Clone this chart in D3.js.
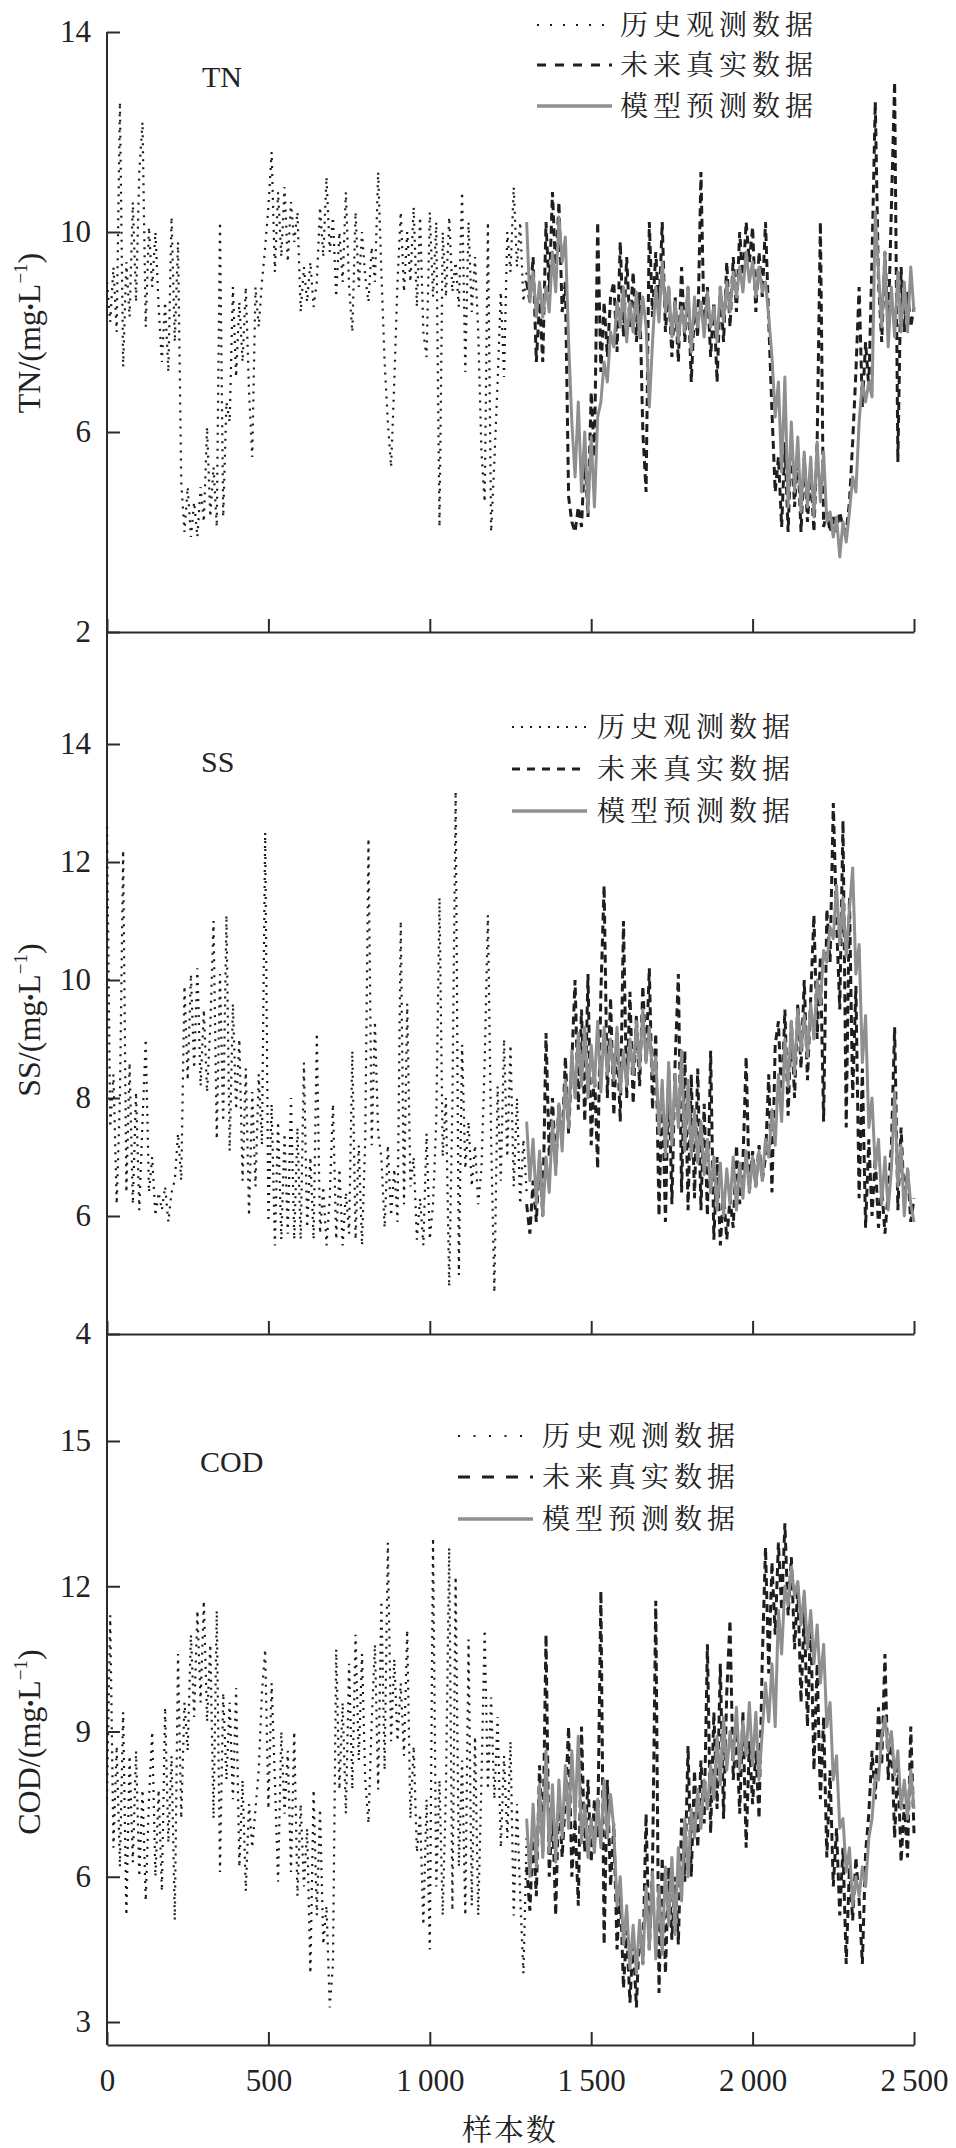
<!DOCTYPE html>
<html><head><meta charset="utf-8">
<script src="https://cdn.jsdelivr.net/npm/d3@7"></script>
<style>body{margin:0;background:#fff}svg{display:block}</style>
</head><body>
<svg id="c" width="956" height="2148"></svg>
<script>
// ---------------- data (sampled every 10 samples) ----------------
const STEP = 10;
const histStart = 0, futStart = 1300;
const xTicks = [0, 500, 1000, 1500, 2000, 2500];
const legendLabels = ["历史观测数据", "未来真实数据", "模型预测数据"];
const panelNames = ["TN", "SS", "COD"];
const tnTicks = [14, 10, 6, 2];
const ssTicks = [14, 12, 10, 8, 6, 4];
const codTicks = [15, 12, 9, 6, 3];

const tnHist = [9.0,8.2,9.3,8.0,12.6,7.3,9.4,8.3,10.6,8.6,11.2,12.2,8.1,10.1,8.9,10.0,8.5,7.4,8.6,7.2,
10.3,7.8,9.8,5.0,4.0,4.9,3.9,4.6,3.9,4.9,4.2,6.1,4.3,5.3,4.1,10.2,4.3,6.6,6.2,8.9,
7.1,8.6,7.4,8.9,6.8,5.5,8.9,8.1,9.0,9.7,10.5,11.6,9.2,10.8,9.5,10.9,9.4,10.6,9.8,10.4,
8.4,9.3,8.6,9.4,8.5,9.0,10.5,9.5,11.1,9.6,10.3,8.7,10.0,9.0,10.8,8.9,8.0,10.4,8.9,10.0,
9.1,8.6,9.7,9.0,11.2,9.2,7.4,6.2,5.3,7.0,9.0,10.4,8.8,10.0,9.0,10.5,8.5,10.3,8.0,7.5,
10.4,8.7,10.2,4.1,10.0,8.7,10.3,8.8,9.4,8.5,10.8,7.2,10.2,8.4,9.5,8.0,5.6,4.6,10.2,4.0,
5.4,7.0,8.8,7.1,10.0,9.2,10.9,9.3,10.2,8.6,9.2];
const tnReal = [9.0,8.6,9.5,7.4,8.6,7.4,10.2,8.8,10.8,9.2,10.6,8.4,9.0,4.7,4.2,4.0,4.5,4.1,5.6,4.3,
6.8,5.5,10.2,7.2,8.6,7.5,8.7,9.0,7.6,9.8,7.9,9.5,8.1,9.2,7.8,8.8,6.0,4.8,10.2,8.3,
9.6,8.4,10.2,8.0,8.9,7.5,8.7,7.4,9.3,7.8,8.9,7.0,8.5,7.9,11.2,8.0,8.9,7.5,8.6,7.0,
8.9,7.8,9.4,8.1,9.5,8.4,10.0,9.0,10.2,9.4,10.1,8.4,9.6,8.7,10.2,8.2,6.4,4.8,5.5,4.1,
5.8,4.0,5.9,4.5,5.6,4.0,5.5,4.2,5.2,4.0,5.8,10.2,4.1,4.4,4.0,4.3,4.0,4.4,4.1,4.0,
4.6,5.8,7.2,8.9,6.5,7.8,6.9,9.5,12.6,9.0,7.8,9.6,8.0,10.5,13.0,5.4,9.3,8.0,8.8,8.1,8.5];
const tnPred = [10.2,8.6,9.2,8.3,9.0,8.3,8.9,8.4,9.6,8.8,10.3,9.4,9.9,7.8,6.2,5.1,6.6,4.8,6.0,4.4,
5.9,4.5,6.3,6.6,7.4,7.0,8.0,7.7,8.6,8.1,8.9,7.8,8.6,8.0,8.8,7.9,8.7,8.1,6.5,7.8,
8.9,8.2,9.4,8.4,8.9,7.9,8.6,7.8,8.5,8.0,8.9,7.6,8.7,8.1,8.6,7.9,8.8,8.1,8.5,7.8,
8.9,8.2,9.0,8.4,9.2,8.7,9.3,8.8,9.6,9.0,9.4,8.7,9.3,8.8,9.0,8.3,7.5,6.3,7.0,5.2,
7.1,4.5,6.2,4.8,5.9,4.4,5.6,4.5,5.5,4.3,5.8,4.6,5.6,4.2,4.4,3.9,4.3,3.5,4.2,3.8,
4.4,5.1,4.8,6.2,7.0,6.6,7.0,6.7,10.4,9.2,8.1,9.6,7.7,8.9,7.9,9.2,8.0,9.0,8.0,9.3,8.4];

const ssHist = [12.6,7.5,8.4,6.2,8.0,12.2,6.4,8.6,6.2,8.1,6.1,7.6,9.0,6.4,7.0,6.0,6.4,6.1,6.5,5.9,
6.4,6.6,7.4,6.6,9.9,8.3,10.1,8.5,10.2,8.2,9.5,8.1,9.2,11.0,7.3,10.1,7.6,11.1,7.1,9.6,
7.8,9.0,6.6,8.5,6.0,8.1,6.5,8.4,7.2,12.5,5.9,7.9,5.5,7.6,5.6,7.4,5.7,8.0,5.6,7.5,
5.6,8.6,5.8,7.0,5.6,9.1,5.7,6.5,5.5,6.3,7.9,5.6,6.8,5.5,6.4,5.7,8.8,5.6,7.2,5.5,
7.3,12.4,7.2,9.3,7.4,7.0,5.8,7.2,6.0,6.8,5.9,11.0,6.2,9.6,6.5,7.0,5.6,6.3,5.5,7.4,
5.6,6.2,7.6,11.4,7.0,8.0,4.8,7.9,13.2,5.0,8.9,6.8,7.6,6.5,7.2,6.2,6.8,8.6,11.1,7.3,
4.7,8.2,6.6,9.0,7.0,8.9,6.5,8.0,6.2,7.3,6.4];
const ssReal = [6.2,5.7,6.6,5.9,7.0,6.0,9.1,7.0,8.0,6.8,7.9,7.2,8.7,7.4,8.6,10.0,7.8,9.5,7.6,10.1,
7.2,8.5,6.8,9.8,11.6,8.0,9.7,7.7,9.1,7.6,11.0,8.0,9.8,7.9,9.4,8.2,9.9,8.6,10.2,7.8,
9.1,6.0,8.2,5.9,8.5,6.2,8.6,10.1,6.4,8.8,6.1,8.4,6.3,8.5,6.1,7.9,6.0,8.8,5.6,7.0,
5.5,6.4,5.6,6.3,5.8,7.2,6.2,6.9,8.7,6.4,7.1,6.5,7.2,6.6,7.0,8.4,6.4,8.9,9.3,7.9,
9.5,7.7,9.3,8.0,9.6,8.5,10.0,8.3,9.7,11.1,9.0,10.4,7.6,11.2,10.3,13.0,11.0,9.5,12.7,7.5,
11.4,8.0,9.9,6.3,8.5,5.8,7.3,6.0,7.0,5.8,6.5,5.7,6.4,7.2,9.2,6.1,7.5,6.2,6.8,5.9,6.3];
const ssPred = [7.6,6.6,7.3,6.2,7.1,6.0,7.0,6.4,7.6,6.7,7.9,7.1,8.3,7.5,8.8,8.0,9.1,8.2,9.2,8.0,
8.9,8.2,9.3,8.1,9.2,8.4,9.0,8.3,9.2,8.1,8.8,8.2,9.0,8.4,9.3,8.5,9.5,8.6,9.2,8.4,
8.7,7.4,8.3,7.0,8.6,7.2,8.4,7.5,8.8,7.1,8.3,7.0,7.8,6.9,7.6,6.7,7.3,6.4,7.0,6.1,
6.9,6.0,6.8,6.2,7.0,6.1,6.9,6.3,7.1,6.4,7.0,6.5,7.1,6.6,7.3,7.0,7.8,7.2,8.4,7.6,
9.0,8.2,9.3,8.4,9.5,8.8,9.4,8.7,9.6,9.0,10.0,9.6,10.5,10.3,10.9,10.7,11.6,10.6,11.4,10.4,
11.2,11.9,10.1,10.6,8.6,9.4,7.5,8.0,6.8,7.3,6.2,7.0,6.1,6.8,8.1,6.5,7.2,6.0,6.8,6.2,5.9];

const codHist = [7.6,11.4,6.6,8.7,6.2,9.4,5.2,8.5,6.3,8.6,6.0,7.8,5.5,7.6,9.0,6.0,7.8,5.7,9.5,6.7,
8.5,5.1,10.6,7.2,9.6,8.6,11.0,9.3,11.5,9.6,11.7,9.2,10.8,7.2,11.5,6.1,9.8,8.0,9.6,7.6,
9.9,6.2,8.0,5.7,7.5,6.6,7.4,8.2,9.8,10.7,7.4,10.0,8.0,5.9,9.0,7.3,8.6,6.1,9.0,5.6,
7.5,5.8,7.0,4.0,7.8,5.2,7.4,4.6,5.4,3.3,4.2,10.7,7.8,9.6,7.3,10.4,7.8,11.0,8.4,10.6,
8.0,7.1,9.2,10.8,7.8,11.7,8.2,12.9,8.8,10.5,8.8,10.0,8.5,11.1,7.2,8.7,6.5,7.3,5.0,7.6,
4.5,13.0,5.8,8.0,5.2,7.8,12.8,5.3,12.2,6.2,8.4,5.2,10.9,5.4,8.9,5.2,8.0,11.1,7.8,9.7,
7.6,9.3,6.6,8.5,6.8,8.8,5.2,7.5,5.6,4.0,6.8];
const codReal = [6.2,5.3,6.9,5.6,8.3,6.5,11.0,6.0,7.4,5.2,7.8,6.4,7.6,9.1,6.0,7.2,5.4,9.1,6.5,8.0,
6.3,7.6,6.8,11.9,4.6,8.0,5.8,7.1,4.5,5.8,3.7,4.9,3.4,4.7,3.3,5.0,4.2,7.3,4.5,6.2,
11.7,3.6,6.4,4.0,6.2,4.7,6.0,4.6,7.2,5.9,8.7,6.0,8.2,6.6,8.4,7.1,10.8,6.9,9.4,7.4,
10.4,7.2,9.8,11.3,8.0,9.0,7.3,9.4,6.6,8.8,7.5,8.6,7.2,10.5,12.8,10.2,12.5,11.0,12.9,11.5,
13.3,11.4,12.6,10.7,12.0,9.6,11.5,9.1,11.3,8.2,10.4,7.6,9.3,6.4,8.2,5.8,7.0,5.2,6.6,4.2,
6.2,5.1,6.4,5.5,4.2,6.5,7.3,8.6,7.6,9.5,8.3,10.6,8.0,9.0,6.8,8.4,6.3,7.5,6.4,9.1,6.9];
const codPred = [7.2,6.0,7.5,6.2,7.9,6.4,8.6,6.5,7.9,6.3,8.0,6.8,8.3,7.0,8.6,7.2,8.9,6.7,7.5,6.4,
7.2,6.5,7.6,6.6,8.0,6.8,7.7,7.0,5.4,6.0,4.6,5.4,4.1,5.0,4.0,5.1,4.2,5.8,4.5,6.1,
4.3,5.8,4.4,6.2,5.0,6.4,4.8,6.6,5.5,7.2,6.0,7.4,6.8,7.8,7.0,8.0,7.4,8.3,7.6,8.9,
7.9,9.3,8.2,9.0,8.4,9.5,8.2,9.2,8.5,9.6,8.3,9.4,8.0,9.0,10.0,9.2,10.4,9.1,11.5,10.6,
12.0,11.6,12.4,11.8,12.1,11.2,11.9,10.7,11.5,10.4,11.2,10.0,10.8,9.1,9.6,8.0,8.5,7.0,7.2,6.1,
6.6,5.4,6.0,5.6,6.2,5.8,6.8,7.2,8.1,8.0,8.9,9.3,8.6,9.0,8.1,8.6,7.4,8.0,7.2,8.2,7.4];

// ---------------- layout ----------------
const svg = d3.select("#c");
const AX = "#2b2b2b";
const serif = "'Liberation Serif','Times New Roman',serif";
const cjk = "'Noto Serif CJK SC','Noto Sans CJK SC','Noto Sans CJK JP',sans-serif";
const x = d3.scaleLinear().domain([0, 2500]).range([107, 914]);

const panels = [
  {name:"TN", domain:[2,14], range:[632,32], ticks:tnTicks, axisY:632, hist:tnHist, real:tnReal, pred:tnPred,
   labelY:333, nameX:202, nameY:87,
   leg:{x0:537, x1:612, tx:620, rows:[25,65,106], dot:"2,11", dash:"9,9"}},
  {name:"SS", domain:[4,14], range:[1334,744], ticks:ssTicks, axisY:1334, hist:ssHist, real:ssReal, pred:ssPred,
   labelY:1020, nameX:201, nameY:772,
   leg:{x0:512, x1:587, tx:597, rows:[727,769,811], dot:"2,7", dash:"8,7"}},
  {name:"COD", domain:[3,15], range:[2022,1441], ticks:codTicks, axisY:2045, hist:codHist, real:codReal, pred:codPred,
   labelY:1742, nameX:200, nameY:1472,
   leg:{x0:458, x1:533, tx:542, rows:[1436,1477,1519], dot:"2,13.5", dash:"12,12"}}
];

// continuous left axis
svg.append("line").attr("x1",107).attr("x2",107).attr("y1",32).attr("y2",2045)
  .attr("stroke",AX).attr("stroke-width",2);

panels.forEach((p, pi) => {
  const y = d3.scaleLinear().domain(p.domain).range(p.range);
  const g = svg.append("g");

  // y axis ticks
  const ya = g.append("g").attr("transform","translate(107,0)")
    .call(d3.axisLeft(y).tickValues(p.ticks).tickSize(-13).tickSizeOuter(0).tickPadding(16));
  ya.select(".domain").remove();
  ya.selectAll("line").attr("stroke",AX).attr("stroke-width",2);
  ya.selectAll("text").attr("font-family",serif).attr("font-size",31).attr("fill","#222");

  // x axis
  const last = pi === panels.length - 1;
  const xa = g.append("g").attr("transform",`translate(0,${p.axisY})`)
    .call(d3.axisBottom(x).tickValues(xTicks).tickSize(-13).tickSizeOuter(0).tickPadding(24)
      .tickFormat(d => last ? (d >= 1000 ? String(d).replace(/(\d)(\d{3})$/, "$1\u2009$2") : String(d)) : ""));
  xa.select(".domain").attr("stroke",AX).attr("stroke-width",2);
  xa.selectAll("line").attr("stroke",AX).attr("stroke-width",2);
  xa.selectAll("text").attr("font-family",serif).attr("font-size",31).attr("fill","#222");

  // series
  const line = d3.line().x(d => x(d[0])).y(d => y(d[1]));
  const hist = p.hist.map((v,i) => [histStart + i*STEP, v]);
  const real = p.real.map((v,i) => [futStart + i*STEP, v]);
  const pred = p.pred.map((v,i) => [futStart + i*STEP, v]);
  g.append("path").attr("d", line(hist)).attr("fill","none").attr("stroke","#1a1a1a")
    .attr("stroke-width",2.2).attr("stroke-dasharray","2,6");
  g.append("path").attr("d", line(real)).attr("fill","none").attr("stroke","#1e1e1e")
    .attr("stroke-width",3).attr("stroke-dasharray","8,5");
  g.append("path").attr("d", line(pred)).attr("fill","none").attr("stroke","#8f8f8f")
    .attr("stroke-width",3).attr("stroke-linejoin","round");

  // panel name
  g.append("text").attr("x",p.nameX).attr("y",p.nameY).text(p.name)
    .attr("font-family",serif).attr("font-size",30).attr("fill","#222");

  // y title
  const t = g.append("text").attr("transform",`translate(40,${p.labelY}) rotate(-90)`)
    .attr("text-anchor","middle").attr("font-family",serif).attr("font-size",32).attr("fill","#222");
  t.append("tspan").text(p.name + "/(mg");
  t.append("tspan").text("\u2022").attr("font-size",20).attr("dy",-2);
  t.append("tspan").text("L").attr("dy",2);
  t.append("tspan").text("\u22121").attr("font-size",19).attr("dy",-13);
  t.append("tspan").text(")").attr("dy",13);

  // legend
  const L = p.leg;
  const styles = [
    {stroke:"#1a1a1a", w:2.2, dash:L.dot},
    {stroke:"#1e1e1e", w:3, dash:L.dash},
    {stroke:"#8f8f8f", w:3.5, dash:null}
  ];
  legendLabels.forEach((lab, k) => {
    const s = styles[k];
    const ln = g.append("line").attr("x1",L.x0).attr("x2",L.x1).attr("y1",L.rows[k]).attr("y2",L.rows[k])
      .attr("stroke",s.stroke).attr("stroke-width",s.w);
    if (s.dash) ln.attr("stroke-dasharray", s.dash);
    g.append("text").attr("x",L.tx).attr("y",L.rows[k] + 10).text(lab)
      .attr("font-family",cjk).attr("font-size",28).attr("letter-spacing",5).attr("fill","#222");
  });
});

// x axis title
svg.append("text").attr("x",510).attr("y",2140).attr("text-anchor","middle").text("样本数")
  .attr("font-family",cjk).attr("font-size",30).attr("letter-spacing",2).attr("fill","#222");
</script>
</body></html>
